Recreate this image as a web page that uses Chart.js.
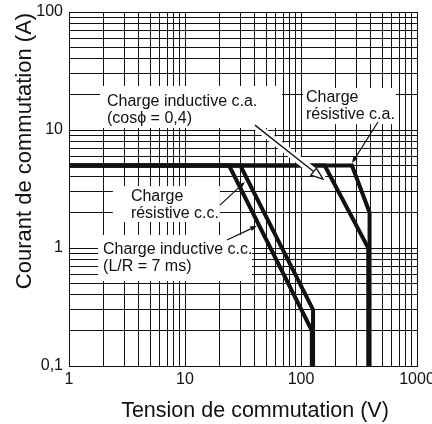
<!DOCTYPE html>
<html>
<head>
<meta charset="utf-8">
<script src="https://cdn.jsdelivr.net/npm/chart.js@4"></script>
<style>
  html, body { margin: 0; padding: 0; background: #fff; }
</style>
</head>
<body>
<canvas id="myChart" width="432" height="424"></canvas>
<script>
// switching voltage (V) and switching current (A) of each curve
const indDcVolts = [1, 24, 124, 124];
const indDcAmps = [5, 5, 0.2, 0.1];
const resDcVolts = [1, 30, 127, 127];
const resDcAmps = [5, 5, 0.3, 0.1];
const indAcVolts = [1, 160, 380, 380];
const indAcAmps = [5, 5, 1, 0.1];
const resAcVolts = [1, 275, 390, 390];
const resAcAmps = [5, 5, 2, 0.1];

// grid lines of the log paper
const xGrid = [1, 2, 3, 4, 5, 6, 7, 8, 9, 10, 20, 30, 40, 50, 60, 70, 80, 90,
  100, 200, 300, 400, 500, 600, 700, 800, 900, 1000];
const yGrid = [0.1, 0.2, 0.3, 0.4, 0.5, 0.6, 0.7, 0.8, 0.9, 1, 2, 3, 4, 5, 6, 7, 8, 9,
  10, 20, 30, 40, 50, 60, 70, 80, 90, 100];

const xTickValues = [1, 10, 100, 1000];
const xTickLabels = ["1", "10", "100", "1000"];
const yTickValues = [0.1, 1, 10, 100];
const yTickLabels = ["0,1", "1", "10", "100"];

const xTitle = "Tension de commutation (V)";
const yTitle = "Courant de commutation (A)";

const FONT = "'Liberation Sans', Arial, Helvetica, sans-serif";
const INK = "#111";

// labels: white box given in data units [x1, x2, yTop, yBottom]
const notes = [
  { lines: ["Charge inductive c.a.", "(cosϕ = 0,4)"], box: [1.85, 68.6, 23.6, 10.4], padX: 7, padTop: 16 },
  { lines: ["Charge", "résistive c.a."], box: [104, 659, 22.7, 11.2], padX: 3, padTop: 10 },
  { lines: ["Charge", "résistive c.c."], box: [2.39, 20, 3.35, 1.66], padX: 18, padTop: 11 },
  { lines: ["Charge inductive c.c.", "(L/R = 7 ms)"], box: [1.78, 37.8, 1.29, 0.525], padX: 5, padTop: 15 },
];

const arrows = [
  { from: [40.1, 11.0], to: [154.8, 3.84], hollow: true },
  { from: [461, 11.7], to: [275, 5.25] },
  { from: [20.0, 2.31], to: [32.9, 3.63] },
  { from: [23.0, 1.17], to: [41.8, 1.54] },
];

function series(label, volts, amps) {
  return {
    label: label,
    data: volts.map((v, i) => ({ x: v, y: amps[i] })),
  };
}

function tickLabel(value, values, labels) {
  const i = values.findIndex((t) => Math.abs(t - value) < t * 1e-6);
  return i >= 0 ? labels[i] : "";
}

function drawHead(ctx, x1, y1, x2, y2, len, half, hollow) {
  const ang = Math.atan2(y2 - y1, x2 - x1);
  const bx = x2 - len * Math.cos(ang);
  const by = y2 - len * Math.sin(ang);
  const nx = -Math.sin(ang) * half;
  const ny = Math.cos(ang) * half;
  ctx.beginPath();
  ctx.moveTo(x2, y2);
  ctx.lineTo(bx + nx, by + ny);
  ctx.lineTo(bx - nx, by - ny);
  ctx.closePath();
  if (hollow) {
    ctx.fillStyle = "#fff";
    ctx.fill();
    ctx.lineWidth = 1.3;
    ctx.strokeStyle = INK;
    ctx.stroke();
  } else {
    ctx.fillStyle = INK;
    ctx.fill();
  }
  return [bx, by];
}

const notesPlugin = {
  id: "notes",
  beforeDatasetsDraw(chart) {
    const { ctx } = chart;
    const { x, y } = chart.scales;
    ctx.save();
    ctx.fillStyle = "#fff";
    notes.forEach((n) => {
      const l = x.getPixelForValue(n.box[0]);
      const r = x.getPixelForValue(n.box[1]);
      const t = y.getPixelForValue(n.box[2]);
      const b = y.getPixelForValue(n.box[3]);
      ctx.fillRect(l, t, r - l, b - t);
    });
    ctx.restore();
  },
  afterDatasetsDraw(chart) {
    const { ctx } = chart;
    const { x, y } = chart.scales;
    ctx.save();
    arrows.forEach((a) => {
      const x1 = x.getPixelForValue(a.from[0]);
      const y1 = y.getPixelForValue(a.from[1]);
      const x2 = x.getPixelForValue(a.to[0]);
      const y2 = y.getPixelForValue(a.to[1]);
      if (a.hollow) {
        ctx.beginPath();
        ctx.moveTo(x1, y1);
        ctx.lineTo(x2, y2);
        ctx.lineWidth = 8;
        ctx.strokeStyle = "#fff";
        ctx.stroke();
        const base = drawHead(ctx, x1, y1, x2, y2, 12, 4.5, true);
        ctx.beginPath();
        ctx.moveTo(x1, y1);
        ctx.lineTo(base[0], base[1]);
        ctx.lineWidth = 1.3;
        ctx.strokeStyle = INK;
        ctx.stroke();
      } else {
        const base = drawHead(ctx, x1, y1, x2, y2, 7, 2.5, false);
        ctx.beginPath();
        ctx.moveTo(x1, y1);
        ctx.lineTo(base[0], base[1]);
        ctx.lineWidth = 1.2;
        ctx.strokeStyle = INK;
        ctx.stroke();
      }
    });

    ctx.fillStyle = INK;
    ctx.font = "16px " + FONT;
    ctx.textAlign = "left";
    ctx.textBaseline = "middle";
    notes.forEach((n) => {
      const l = x.getPixelForValue(n.box[0]);
      const t = y.getPixelForValue(n.box[2]);
      n.lines.forEach((line, i) => {
        ctx.fillText(line, l + n.padX, t + n.padTop + i * 17);
      });
    });
    ctx.restore();
  },
  afterDraw(chart) {
    const { ctx } = chart;
    ctx.save();
    ctx.fillStyle = INK;
    ctx.textAlign = "center";
    ctx.textBaseline = "middle";
    ctx.font = "21.5px " + FONT;
    ctx.fillText(xTitle, 255, 411);
    ctx.font = "22px " + FONT;
    ctx.translate(25, 151);
    ctx.rotate(-Math.PI / 2);
    ctx.fillText(yTitle, 0, 0);
    ctx.restore();
  },
};

function mainEvent() {
  const chartTarget = document.querySelector("#myChart");

  const config = {
    type: "line",
    data: {
      datasets: [
        series("Charge inductive c.c.", indDcVolts, indDcAmps),
        series("Charge résistive c.c.", resDcVolts, resDcAmps),
        series("Charge inductive c.a.", indAcVolts, indAcAmps),
        series("Charge résistive c.a.", resAcVolts, resAcAmps),
      ],
    },
    options: {
      responsive: false,
      animation: false,
      layout: { padding: { top: 12, right: 15, left: 0, bottom: 0 } },
      plugins: { legend: { display: false }, tooltip: { enabled: false } },
      elements: {
        point: { radius: 0 },
        line: {
          borderWidth: 4,
          tension: 0,
          borderColor: INK,
          borderJoinStyle: "miter",
          borderCapStyle: "butt",
          fill: false,
        },
      },
      scales: {
        x: {
          type: "logarithmic",
          min: 1,
          max: 1000,
          afterBuildTicks: (s) => { s.ticks = xGrid.map((v) => ({ value: v })); },
          afterFit: (s) => { s.height = 58; s.paddingLeft = 0; s.paddingRight = 0; },
          ticks: {
            autoSkip: false,
            maxRotation: 0,
            padding: 4,
            color: INK,
            font: { family: FONT, size: 16 },
            callback: (v) => tickLabel(v, xTickValues, xTickLabels),
          },
          grid: { color: INK, lineWidth: 1, drawTicks: false },
          border: { color: INK, width: 1 },
        },
        y: {
          type: "logarithmic",
          min: 0.1,
          max: 100,
          afterBuildTicks: (s) => { s.ticks = yGrid.map((v) => ({ value: v })); },
          afterFit: (s) => { s.width = 69; s.paddingTop = 0; s.paddingBottom = 0; },
          ticks: {
            autoSkip: false,
            padding: 6,
            color: INK,
            font: { family: FONT, size: 16 },
            callback: (v) => tickLabel(v, yTickValues, yTickLabels),
          },
          grid: { color: INK, lineWidth: 1, drawTicks: false },
          border: { color: INK, width: 1 },
        },
      },
    },
    plugins: [notesPlugin],
  };

  return new Chart(chartTarget, config);
}

document.addEventListener("DOMContentLoaded", () => mainEvent());
</script>
</body>
</html>
